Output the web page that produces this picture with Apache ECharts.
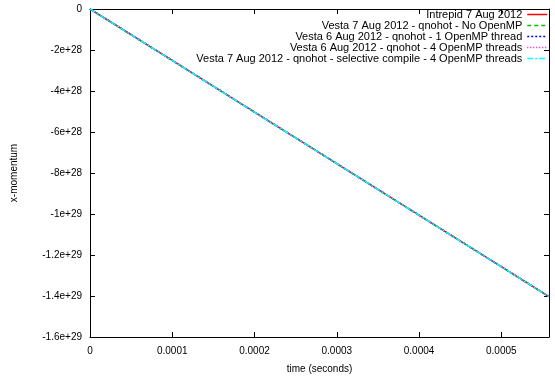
<!DOCTYPE html>
<html><head><meta charset="utf-8">
<script src="https://cdn.jsdelivr.net/npm/echarts@6/dist/echarts.min.js"></script>
<style>html,body{margin:0;padding:0;background:#fff}#c{width:555px;height:379px}</style>
</head><body><div id="c"></div>
<script>
var seriesNames = [
  "Intrepid 7 Aug 2012",
  "Vesta 7 Aug 2012 - qnohot - No OpenMP",
  "Vesta 6 Aug 2012 - qnohot - 1 OpenMP thread",
  "Vesta 6 Aug 2012 - qnohot - 4 OpenMP threads",
  "Vesta 7 Aug 2012 - qnohot - selective compile - 4 OpenMP threads"
];
var times = [0, 0.0001, 0.0002, 0.0003, 0.0004, 0.0005, 0.000558];
var intrepid = [0, -2.51e28, -5.03e28, -7.54e28, -1.006e29, -1.257e29, -1.403e29];
var vestaNoOmp = [0, -2.51e28, -5.03e28, -7.54e28, -1.006e29, -1.257e29, -1.403e29];
var vesta1Thread = [0, -2.51e28, -5.03e28, -7.54e28, -1.006e29, -1.257e29, -1.403e29];
var vesta4Threads = [0, -2.51e28, -5.03e28, -7.54e28, -1.006e29, -1.257e29, -1.403e29];
var vestaSelective = [0, -2.51e28, -5.03e28, -7.54e28, -1.006e29, -1.257e29, -1.403e29];
var xTickLabels = ["0", "0.0001", "0.0002", "0.0003", "0.0004", "0.0005"];
var yTickLabels = ["0", "-2e+28", "-4e+28", "-6e+28", "-8e+28", "-1e+29", "-1.2e+29", "-1.4e+29", "-1.6e+29"];

var colors = ["#ff0000", "#00c000", "#0000ff", "#ff00ff", "#00ffff"];
var dashes = ["solid", [4, 3], [2, 2], [1, 2], [6, 2, 2, 2]];
var values = [intrepid, vestaNoOmp, vesta1Thread, vesta4Threads, vestaSelective];

function pairs(v) { return times.map(function (t, i) { return [t, v[i]]; }); }
var FONT = "Liberation Sans, Arial, sans-serif";
var axisCommon = {
  axisLine: { show: true, onZero: false, lineStyle: { color: "#000", width: 1 } },
  axisTick: { show: true, inside: true, length: 5, lineStyle: { color: "#000" } },
  splitLine: { show: false }
};
var chart = echarts.init(document.getElementById("c"), null, { renderer: "canvas" });
chart.setOption({
  animation: false,
  textStyle: { fontFamily: FONT },
  grid: { left: 90, right: 6, top: 9, bottom: 42 },
  legend: {
    orient: "vertical", right: 2, top: 4, align: "right",
    itemWidth: 20, itemHeight: 9, itemGap: 0,
    itemStyle: { opacity: 0 },
    lineStyle: { width: 1.5 },
    textStyle: { fontFamily: FONT, fontSize: 11, color: "#000" },
    data: seriesNames
  },
  xAxis: [
    Object.assign({
      type: "value", min: 0, max: 0.000558, interval: 0.0001, position: "bottom",
      name: "time (seconds)", nameLocation: "middle", nameGap: 27,
      nameTextStyle: { fontFamily: FONT, fontSize: 10, color: "#000" },
      axisLabel: { color: "#000", fontSize: 10, fontFamily: FONT, margin: 9, showMaxLabel: false,
        formatter: function (v) { var i = Math.round(v / 0.0001); return Math.abs(v - i * 0.0001) < 1e-9 ? (xTickLabels[i] || "") : ""; } }
    }, axisCommon),
    Object.assign({
      type: "value", min: 0, max: 0.000558, interval: 0.0001, position: "top",
      axisLabel: { show: false }
    }, axisCommon)
  ],
  yAxis: [
    Object.assign({
      type: "value", min: -1.6e29, max: 0, interval: 2e28, position: "left",
      name: "x-momentum", nameLocation: "middle", nameGap: 71,
      nameTextStyle: { fontFamily: FONT, fontSize: 10, color: "#000" },
      axisLabel: { color: "#000", fontSize: 10, fontFamily: FONT, margin: 8,
        formatter: function (v) { var i = Math.round(-v / 2e28); return yTickLabels[i] || ""; } }
    }, axisCommon),
    Object.assign({
      type: "value", min: -1.6e29, max: 0, interval: 2e28, position: "right",
      axisLabel: { show: false }
    }, axisCommon)
  ],
  series: seriesNames.map(function (n, k) {
    return {
      name: n, type: "line", xAxisIndex: 0, yAxisIndex: 0,
      data: pairs(values[k]), showSymbol: false, symbol: "none",
      lineStyle: { color: colors[k], width: 1.5, type: dashes[k] },
      itemStyle: { color: colors[k] }
    };
  })
});
</script></body></html>
